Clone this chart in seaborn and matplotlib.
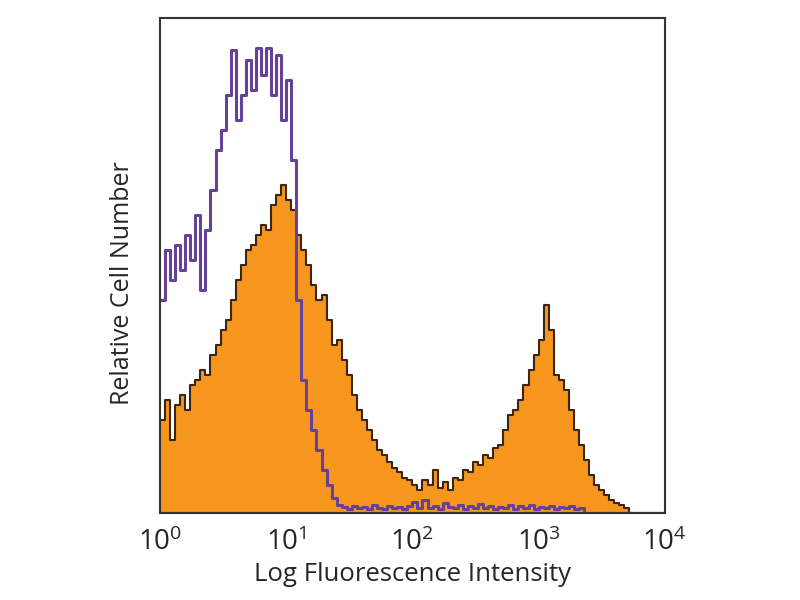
import numpy as np
import pandas as pd
import matplotlib
matplotlib.use("Agg")
import matplotlib.pyplot as plt
import seaborn as sns

# histogram channels: 100 bins, 0.04 decade each, from 10^0 to 10^4
n_bins = 100
log_lo, log_hi = 0.0, 4.0

# stained sample (orange, filled), relative counts per bin
stained = [
    18.8, 22.8, 14.7, 21.8, 23.8, 20.8, 25.9, 26.9, 28.9, 27.9,
    31.9, 33.9, 37.0, 39.0, 43.0, 47.1, 50.1, 53.1, 54.1, 56.2,
    58.2, 57.2, 62.2, 64.2, 66.3, 63.2, 61.2, 56.2, 53.1, 50.1,
    46.1, 43.0, 44.0, 39.0, 33.9, 34.9, 30.9, 27.9, 23.8, 20.8,
    18.8, 16.8, 14.7, 12.7, 11.7, 10.3, 9.1, 8.3, 7.1, 6.7,
    5.7, 4.6, 6.7, 5.7, 8.7, 5.1, 6.3, 4.6, 7.1, 6.7,
    8.7, 8.3, 10.3, 9.7, 11.7, 11.1, 13.1, 13.7, 16.8, 19.8,
    20.8, 22.8, 25.9, 28.9, 31.9, 34.9, 42.0, 37.0, 27.9, 26.9,
    24.8, 20.8, 16.8, 13.7, 10.7, 7.7, 5.7, 4.6, 3.6, 2.6,
    2.0, 1.6, 1.0, 0, 0, 0, 0, 0, 0, 0,
]

# isotype control (purple outline)
isotype = [
    43.0, 53.1, 47.1, 54.1, 49.1, 56.2, 51.1, 60.2, 45.1, 57.2,
    65.3, 73.3, 77.4, 84.4, 93.5, 79.4, 84.4, 91.5, 85.5, 93.9,
    88.5, 93.9, 84.4, 92.5, 79.4, 87.5, 71.3, 43.0, 26.9, 20.8,
    16.8, 12.7, 8.7, 5.7, 3.0, 1.6, 1.2, 0.8, 1.5, 1.0,
    1.3, 0.9, 1.6, 1.1, 0.8, 1.4, 1.0, 1.2, 0.9, 1.5,
    2.2, 1.0, 2.6, 1.1, 1.4, 0.9, 2.0, 1.3, 1.0, 1.6,
    0.9, 1.4, 1.1, 1.8, 1.0, 1.5, 0.8, 1.3, 1.0, 1.6,
    0.9, 1.4, 1.1, 1.7, 0.9, 1.3, 1.0, 1.5, 0.8, 1.2,
    1.0, 1.4, 0.9, 1.1, 0, 0, 0, 0, 0, 0,
    0, 0, 0, 0, 0, 0, 0, 0, 0, 0,
]

edges = np.linspace(log_lo, log_hi, n_bins + 1)
centers = 10 ** ((edges[:-1] + edges[1:]) / 2)
df = pd.DataFrame({"intensity": centers, "stained": stained, "isotype": isotype})

sns.set_style("white")
plt.rcParams["font.family"] = ["Open Sans", "DejaVu Sans"]

fig = plt.figure(figsize=(8, 6), dpi=100)
ax = fig.add_axes([0.2, 0.145, 0.631, 0.825])

sns.histplot(data=df, x="intensity", weights="stained", bins=n_bins,
             binrange=(log_lo, log_hi), log_scale=True, element="step",
             fill=True, color="#f7961d", alpha=1, edgecolor="#3b2614",
             linewidth=1.5, ax=ax)
sns.histplot(data=df, x="intensity", weights="isotype", bins=n_bins,
             binrange=(log_lo, log_hi), log_scale=True, element="step",
             fill=False, color="#66419a", linewidth=2.2, ax=ax)

ax.set_xlim(1, 1e4)
ax.set_ylim(0, 100)
ax.set_yticks([])
ax.minorticks_off()
ax.tick_params(axis="x", length=0, pad=11, labelsize=20)
ax.set_xlabel("Log Fluorescence Intensity", fontsize=18.5, labelpad=4)
ax.set_ylabel("Relative Cell Number", fontsize=18)
ax.yaxis.set_label_coords(-0.05, 0.465)
for s in ax.spines.values():
    s.set_color("#333333")
    s.set_linewidth(1.5)

fig.savefig("out.png", dpi=100)
